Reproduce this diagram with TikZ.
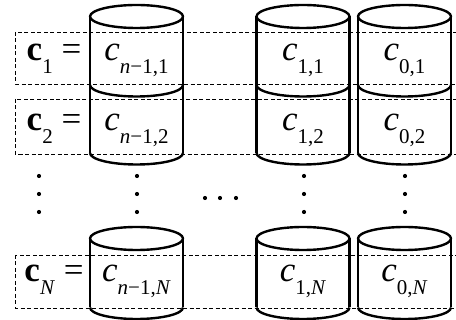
\documentclass[tikz,border=0pt]{standalone}
\usepackage{fontspec}
\setmainfont{Liberation Serif}
\newfontfamily\tms{Liberation Serif}
\newcommand{\mysub}[1]{\raisebox{-0.36em}{\fontsize{21}{21}\selectfont #1}}
\newcommand{\ent}[1]{\textit{c}\mysub{#1}}
\newcommand{\lbl}[1]{\textbf{c}\mysub{#1}\ =}
\tikzset{
  cyl/.style={line width=2.4pt, line join=round},
  rowbox/.style={dashed, line width=0.9pt, dash pattern=on 4pt off 2.5pt},
  txt/.style={inner sep=0pt, anchor=base, font=\tms\fontsize{35}{35}\selectfont},
  dotty/.style={fill=black, draw=none}
}
\begin{document}
\begin{tikzpicture}[x=1pt,y=-1pt]
\useasboundingbox (0,0) rectangle (456,320);
\begin{scope}
\clip (0,0) rectangle (456,320);
% dashed row boxes
\draw[rowbox] (15,32) rectangle (470,84);
\draw[rowbox] (15,99) rectangle (470,154);
\draw[rowbox] (15,255) rectangle (470,308);
\end{scope}
% cylinders: top stacks
\foreach \cx/\nm in {136.5/a,303/b,404.5/c}{
  \draw[cyl] (\cx,16.5) ellipse [x radius=46.5pt, y radius=11.5pt];
  \draw[cyl] (\cx-46.5,16.5) -- (\cx-46.5,153);
  \draw[cyl] (\cx+46.5,16.5) -- (\cx+46.5,153);
  \draw[cyl] (\cx-46.5,85) arc [start angle=180, end angle=360, x radius=46.5pt, y radius=11.5pt];
  \draw[cyl] (\cx-46.5,153) arc [start angle=180, end angle=360, x radius=46.5pt, y radius=11.5pt];
  % bottom cylinder
  \draw[cyl] (\cx,238.5) ellipse [x radius=46.5pt, y radius=11.5pt];
  \draw[cyl] (\cx-46.5,238.5) -- (\cx-46.5,307.5);
  \draw[cyl] (\cx+46.5,238.5) -- (\cx+46.5,307.5);
  \draw[cyl] (\cx-46.5,307.5) arc [start angle=180, end angle=360, x radius=46.5pt, y radius=11.5pt];
}
% labels
\node[txt] (l1) at (54,61) {\lbl{1}};
\node[txt] (l2) at (54,131) {\lbl{2}};
\node[txt] (lN) at (54,282) {\lbl{\textit{N}}};
\node[txt] (a1) at (136.5,61) {\ent{\textit{n}−1,1}};
\node[txt] (a2) at (136.5,131) {\ent{\textit{n}−1,2}};
\node[txt] (aN) at (136.5,282) {\ent{\textit{n}−1,\textit{N}}};
\node[txt] (b1) at (303,61) {\ent{1,1}};
\node[txt] (b2) at (303,131) {\ent{1,2}};
\node[txt] (bN) at (303,282) {\ent{1,\textit{N}}};
\node[txt] (c1) at (404.5,61) {\ent{0,1}};
\node[txt] (c2) at (404.5,131) {\ent{0,2}};
\node[txt] (cN) at (404.5,282) {\ent{0,\textit{N}}};
% vertical dots
\foreach \x in {39,137,304,405}{
  \foreach \y in {176,194,212}{
    \fill[dotty] (\x,\y) circle (2.1pt);
  }
}
% horizontal dots
\foreach \x in {205,220,236}{
  \fill[dotty] (\x,198) circle (2.1pt);
}
\end{tikzpicture}
\end{document}
